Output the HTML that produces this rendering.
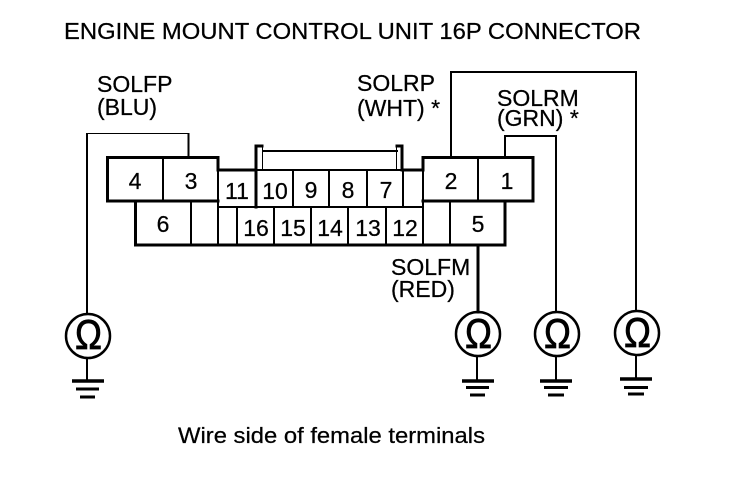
<!DOCTYPE html>
<html><head><meta charset="utf-8"><style>html,body{margin:0;padding:0;background:#fff}svg{display:block}text{font-family:"Liberation Sans",sans-serif;fill:#000;stroke:#000;stroke-width:.25px}</style></head><body>
<svg width="736" height="480" viewBox="0 0 736 480" xmlns="http://www.w3.org/2000/svg">
<g fill="none" stroke="#000" stroke-linecap="square">
<!-- connector outlines -->
<path stroke-width="3" d="M256 170H218V157.500H107.500V201H135.500V245H505V201H533V157.500H423V170H403"/>
<path stroke-width="3" d="M107.500 201H218M423 201H533"/>
<path stroke-width="2" d="M218 207H423M218 170V245M423 170V245M163 157V201M478 157V201M191 201V245M237 207V245M274 207V245M311 207V245M348 207V245M386 207V245M450 201V245"/>
<path stroke-width="2" d="M293 170V207M329 170V207M367 170V207M403 170V207"/>
<path stroke-width="3" d="M256 146V207"/>
<path stroke-width="2" d="M256 170H403"/>
<!-- tab -->
<path stroke-width="2" d="M263 151H397"/>
<path stroke-width="3" d="M256.500 146H262M397 146H402V170"/>
<path stroke-width="1" d="M262.500 146V170M396.500 146V170"/>
<!-- wires -->
<path stroke-width="2" d="M87 134V314"/>
<path stroke-width="1" d="M87 133.500H188.500"/>
<path stroke-width="2" d="M188.500 134V157"/>
<path stroke-width="2" d="M451 157V72H636V311"/>
<path stroke-width="2" d="M505 157V136H556V311"/>
<path stroke-width="3" d="M478 245V312"/>
<!-- meters -->
<circle cx="88" cy="336" r="22" stroke-width="2.500"/>
<circle cx="478" cy="334" r="22" stroke-width="2.500"/>
<circle cx="557" cy="334" r="22" stroke-width="2.500"/>
<circle cx="637" cy="333" r="22" stroke-width="2.500"/>
<!-- grounds -->
<path stroke-width="2" d="M87 358V381M477 356V381M556 356V381M636 355V379"/>
<g stroke-linecap="butt">
<path stroke-width="3.500" d="M72 381H104M462 381H494M540 381H572M620 379H652"/>
<path stroke-width="3" d="M76 389H99M466 387.500H489M544 387.500H568M624 387.500H648"/>
<path stroke-width="3" d="M80 397H95M470 395H485M548 395H564M628 394H644"/>
</g>
</g>
<!-- omega glyphs -->
<g font-size="42" style="stroke-width:.8px">
<text x="75" y="349" textLength="27" lengthAdjust="spacingAndGlyphs" style="stroke-width:.8px">Ω</text>
<text x="465" y="348" textLength="27" lengthAdjust="spacingAndGlyphs" style="stroke-width:.8px">Ω</text>
<text x="544" y="348" textLength="27" lengthAdjust="spacingAndGlyphs" style="stroke-width:.8px">Ω</text>
<text x="624" y="347" textLength="27" lengthAdjust="spacingAndGlyphs" style="stroke-width:.8px">Ω</text>
</g>
<!-- labels -->
<text x="64" y="39" font-size="23" textLength="577" lengthAdjust="spacingAndGlyphs">ENGINE MOUNT CONTROL UNIT 16P CONNECTOR</text>
<text x="97" y="92" font-size="23">SOLFP</text>
<text x="97" y="115" font-size="23">(BLU)</text>
<text x="357" y="91" font-size="23">SOLRP</text>
<text x="357" y="116" font-size="23">(WHT) *</text>
<text x="497" y="106" font-size="23">SOLRM</text>
<text x="497" y="126" font-size="23">(GRN) *</text>
<text x="391" y="275" font-size="23">SOLFM</text>
<text x="391" y="297" font-size="23">(RED)</text>
<text x="178" y="443" font-size="22" textLength="307" lengthAdjust="spacingAndGlyphs">Wire side of female terminals</text>
<!-- pin numbers -->
<g font-size="23" text-anchor="middle">
<text x="135" y="189">4</text><text x="191" y="189">3</text><text x="451" y="189">2</text><text x="507" y="189">1</text>
<text x="163" y="232">6</text><text x="478" y="232">5</text>
<text x="237" y="199">11</text><text x="275" y="199">10</text><text x="311" y="198">9</text><text x="348" y="198">8</text><text x="386" y="198">7</text>
<text x="256" y="236">16</text><text x="293" y="236">15</text><text x="330" y="236">14</text><text x="368" y="236">13</text><text x="405" y="236">12</text>
</g>
</svg>
</body></html>
